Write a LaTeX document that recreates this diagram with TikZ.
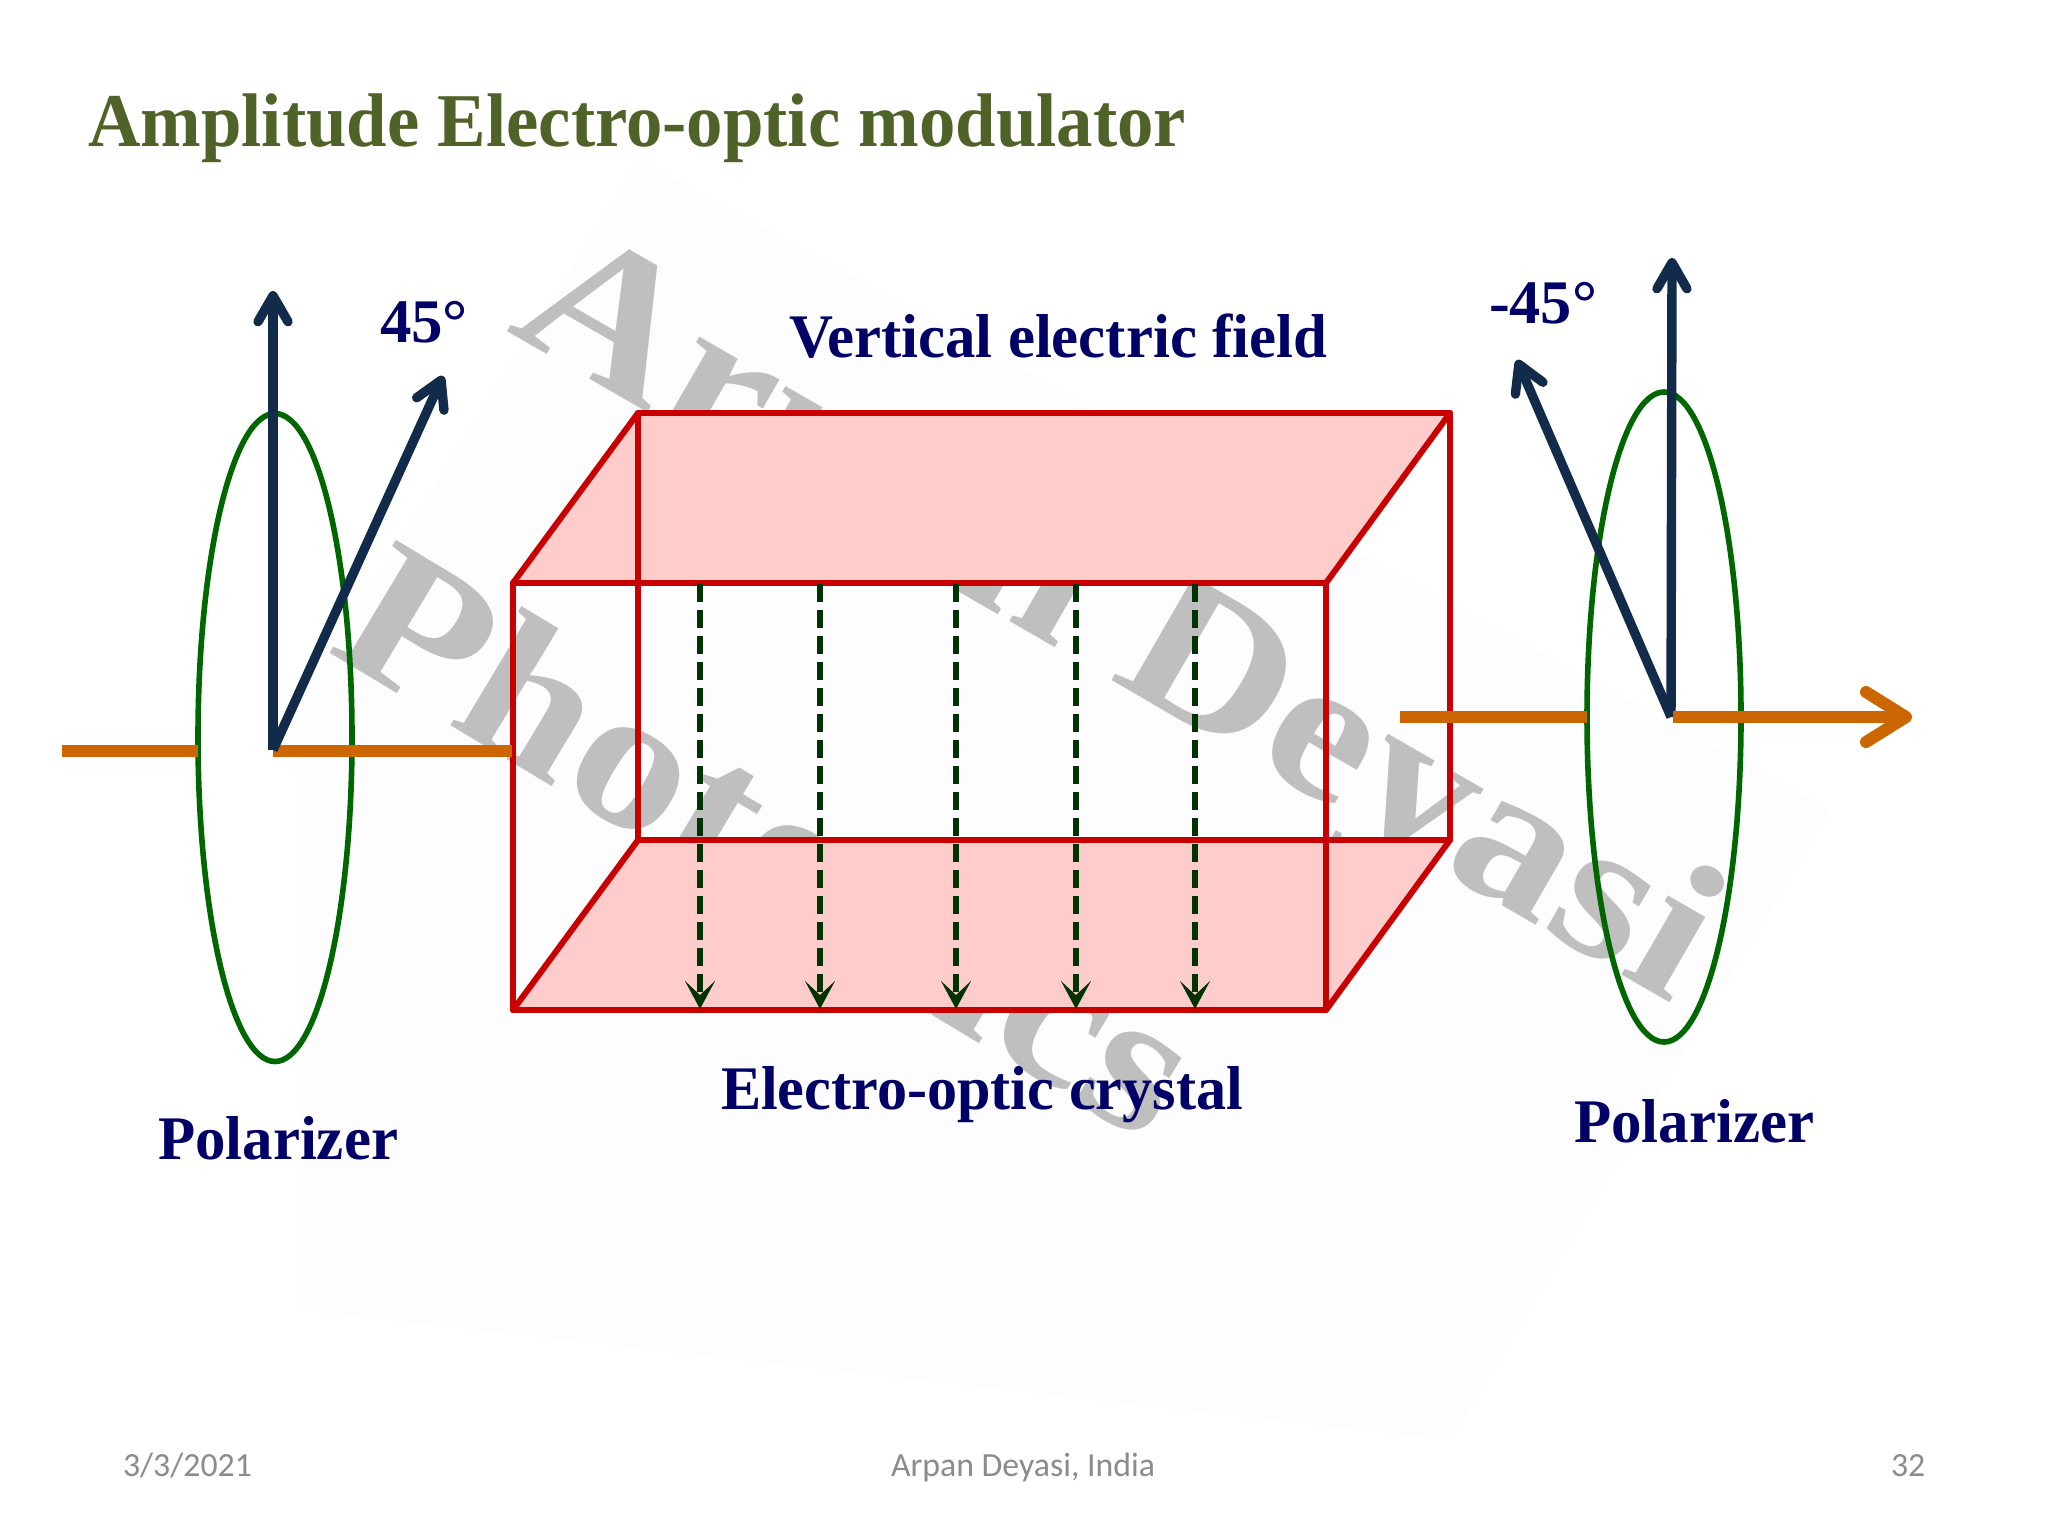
\documentclass[tikz,border=0pt]{standalone}
\usepackage{fontspec}
\usepackage{graphicx}
\usetikzlibrary{arrows.meta}
\setmainfont{Liberation Serif}
\newfontfamily\footfont{Carlito}
\definecolor{titlegreen}{HTML}{4F6228}
\definecolor{labelblue}{HTML}{000066}
\definecolor{arrownavy}{HTML}{132B4A}
\definecolor{beamorange}{HTML}{CC6600}
\definecolor{boxred}{HTML}{C80000}
\definecolor{facepink}{HTML}{FFCCCC}
\definecolor{lensgreen}{HTML}{006600}
\definecolor{fielddark}{HTML}{003300}
\definecolor{footgray}{HTML}{8B8B8B}
\definecolor{markgray}{HTML}{BFBFBF}
\definecolor{faintbg}{HTML}{FDFDFF}
\newcommand{\fitw}[2]{\resizebox{#1pt}{\height}{#2}}
\tikzset{
  x=0.5pt,y=-0.5pt,
  lbl/.style={anchor=base west,inner sep=0pt,outer sep=0pt,text=labelblue,font=\fontsize{31}{34}\selectfont\bfseries},
  ttl/.style={anchor=base west,inner sep=0pt,outer sep=0pt,text=titlegreen,font=\fontsize{38}{42}\selectfont\bfseries},
  foot/.style={anchor=base west,inner sep=0pt,outer sep=0pt,text=footgray,font=\footfont\fontsize{16.9}{19}\selectfont},
  wmark/.style={anchor=base west,inner sep=0pt,outer sep=0pt,text=markgray,font=\fontsize{100}{110}\selectfont\bfseries},
  lens/.style={draw=lensgreen,line width=2.8pt},
  beam/.style={draw=beamorange,line width=6pt},
  pol/.style={draw=arrownavy,line width=4.7pt,-{Straight Barb[length=13pt,width=15pt,line width=4.7pt,round]}},
  edgebox/.style={draw=boxred,line width=3pt,line join=round,line cap=round},
  fieldline/.style={draw=fielddark,line width=3pt,dash pattern=on 9pt off 4pt,-{Stealth[length=14pt,width=15pt,inset=7pt]}},
}
\begin{document}
\begin{tikzpicture}
\useasboundingbox (0,0) rectangle (2048,1536);
\fill[white] (0,0) rectangle (2048,1536);
\fill[faintbg] (640,160) -- (1830,810) -- (1450,1440) -- (300,1310) -- (300,700) -- cycle;
% watermark
\node[wmark,rotate=-30] (wm1) at (505,330) {\scalebox{1.15}[1]{Arpan Deyasi}};
\node[wmark,rotate=-31] (wm2) at (325,650) {\scalebox{1.15}[1]{Photonics}};
% crystal corners
\coordinate (fa) at (513,583);
\coordinate (fb) at (1326,583);
\coordinate (fc) at (1326,1010);
\coordinate (fd) at (513,1010);
\coordinate (ba) at (638,413);
\coordinate (bb) at (1450,413);
\coordinate (bc) at (1450,840);
\coordinate (bd) at (638,840);
\fill[facepink] (ba) -- (bb) -- (fb) -- (fa) -- cycle;
\fill[facepink] (bd) -- (bc) -- (fc) -- (fd) -- cycle;
\draw[edgebox] (ba) -- (bb) -- (bc) -- (bd) -- cycle;
\draw[edgebox] (fa) -- (fb) -- (fc) -- (fd) -- cycle;
\draw[edgebox] (ba) -- (fa) (bb) -- (fb) (bc) -- (fc) (bd) -- (fd);
% field lines
\foreach \n/\px in {1/700,2/820,3/956,4/1076,5/1195}{
  \coordinate (ft\n) at (\px,584);
  \coordinate (fe\n) at (\px,1009);
  \draw[fieldline] (ft\n) -- (fe\n);
}
% polarizer left
\coordinate (lc) at (275,737.5);
\draw[lens] (lc) ellipse [x radius=77,y radius=324];
\coordinate (lo) at (273,750);
\coordinate (lu) at (273,291);
\coordinate (lt) at (443,376);
\coordinate (b1) at (62,751);
\coordinate (b2) at (198,751);
\coordinate (b3) at (273,751);
\coordinate (b4) at (512,751);
\draw[beam] (b1) -- (b2);
\draw[beam] (b3) -- (b4);
\draw[pol] (lo) -- (lu);
\draw[pol] (lo) -- (lt);
% polarizer right
\coordinate (rc) at (1664,717);
\draw[lens] (rc) ellipse [x radius=77,y radius=325];
\coordinate (ro) at (1671,717);
\coordinate (ru) at (1672,258);
\coordinate (rt) at (1517,360);
\coordinate (b5) at (1400,717);
\coordinate (b6) at (1587,717);
\coordinate (b7) at (1673,717);
\coordinate (b8) at (1912,717);
\draw[beam] (b5) -- (b6);
\draw[pol] (ro) -- (ru);
\draw[pol] (ro) -- (rt);
\draw[beam,-{Straight Barb[length=20pt,width=25pt,line width=6pt,round]}] (b7) -- (b8);
% labels
\node[ttl] (title) at (88,147) {\fitw{549}{Amplitude Electro-optic modulator}};
\node[lbl] (vef) at (789,357) {\fitw{269}{Vertical electric field}};
\node[lbl] (eoc) at (721,1109) {\fitw{261}{Electro-optic crystal}};
\node[lbl] (pl) at (158,1159) {\fitw{120}{Polarizer}};
\node[lbl] (pr) at (1574,1142) {\fitw{120}{Polarizer}};
\node[lbl] (a1) at (380,342) {\fitw{44}{45°}};
\node[lbl] (a2) at (1489,323) {\fitw{54}{-45°}};
\node[foot] (d) at (123,1476) {3/3/2021};
\node[foot] (au) at (891,1476) {Arpan Deyasi, India};
\node[foot] (pg) at (1891,1476) {32};
\end{tikzpicture}
\end{document}
